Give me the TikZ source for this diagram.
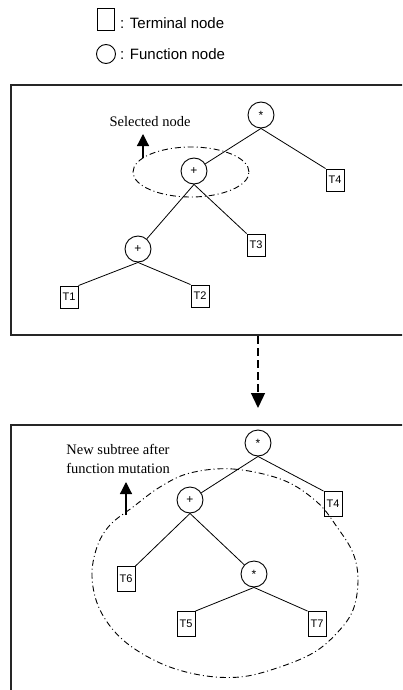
\documentclass[tikz,border=0pt]{standalone}
\usepackage{fontspec}
\setmainfont{Liberation Serif}
\setsansfont{Liberation Sans}
\usetikzlibrary{arrows.meta}

\newcommand{\starop}{\raisebox{-2.5pt}{*}}

\begin{document}
\begin{tikzpicture}[x=1pt,y=-1pt,
  frame/.style={line width=2pt, draw=black!85},
  fnode/.style={circle, draw, line width=0.9pt, minimum size=26pt, inner sep=0pt,
    font=\sffamily\fontsize{12}{12}\selectfont},
  tnode/.style={rectangle, draw, line width=0.9pt, minimum width=18pt, minimum height=22pt,
    inner sep=0pt, font=\sffamily\fontsize{11}{11}\selectfont},
  tnodetall/.style={tnode, minimum height=25pt},
  branch/.style={line width=0.8pt},
  region/.style={line width=0.9pt, dash pattern=on 6pt off 3pt on 1pt off 3pt},
  pointer/.style={line width=1.2pt, -{Triangle[width=12pt,length=12pt]}},
  note/.style={font=\fontsize{14.5}{19}\selectfont, align=center, inner sep=0pt},
  legend/.style={font=\sffamily\fontsize{15}{15}\selectfont, anchor=base west, inner sep=0pt}
]
\useasboundingbox (0,0) rectangle (402,690);
\clip (0,0) rectangle (402,690);

% legend
\node[draw, line width=0.9pt, minimum width=17pt, minimum height=22pt, inner sep=0pt] (legT) at (106,19) {};
\node[legend] (legTtext) at (120,29) {: Terminal node};
\node[draw, circle, line width=0.9pt, minimum size=19pt, inner sep=0pt] (legF) at (106,54) {};
\node[legend] (legFtext) at (120,60) {: Function node};

% frames of the two stages
\draw[frame] (410,85) -- (11,85) -- (11,335) -- (410,335);
\draw[frame] (11,700) -- (11,425) -- (410,425);

% transition arrow
\coordinate (from) at (258,336);
\coordinate (to) at (258,408);
\draw[line width=1.3pt, dash pattern=on 8pt off 4pt, -{Triangle[width=14pt,length=15pt]}] (from) -- (to);

% ---- original tree ----
\node[fnode] (a1) at (261,115) {\starop};
\node[fnode] (b1) at (194,171) {+};
\node[tnode] (t4a) at (335,180) {T4};
\node[fnode] (c1) at (138,249) {+};
\node[tnode] (t3a) at (256,245) {T3};
\node[tnode] (t1a) at (69,297) {T1};
\node[tnode] (t2a) at (200,296) {T2};

\draw[branch] (a1.south) -- (b1);
\draw[branch] (a1.south) -- (t4a.north west);
\draw[branch] (b1.south) -- (c1);
\draw[branch] (b1.south) -- (t3a.north west);
\draw[branch] (c1.south) -- (t1a.north east);
\draw[branch] (c1.south) -- (t2a.north west);

\draw[region] (191,172) ellipse [x radius=58pt, y radius=25pt];
\node[note] (lab1) at (150,122) {Selected node};
\coordinate (p1) at (143,158);
\coordinate (q1) at (143,134);
\draw[pointer] (p1) -- (q1);

% ---- tree after function mutation ----
\node[fnode] (a2) at (258,443) {\starop};
\node[fnode] (b2) at (190,500) {+};
\node[tnodetall] (t4b) at (333,504) {T4};
\node[tnodetall] (t6) at (126,579) {T6};
\node[fnode] (c2) at (254,574) {\starop};
\node[tnodetall] (t5) at (186,624) {T5};
\node[tnodetall] (t7) at (317,624) {T7};

\draw[branch] (a2.south) -- (b2);
\draw[branch] (a2.south) -- (t4b.north west);
\draw[branch] (b2.south) -- (t6.north east);
\draw[branch] (b2.south) -- (c2);
\draw[branch] (c2.south) -- (t5.north east);
\draw[branch] (c2.south) -- (t7.north west);

\draw[region] plot[smooth cycle, tension=0.6] coordinates {
  (190,473) (233,469) (283,480) (317,502) (337,527) (353,553) (358,580)
  (353,610) (337,633) (313,653) (277,668) (240,677) (200,675) (160,663)
  (123,640) (100,610) (92,577) (97,547) (110,525) (133,507) (160,487)};
\node[note] (lab2) at (118,459) {New subtree after\\function mutation};
\coordinate (p2) at (126,515);
\coordinate (q2) at (126,482);
\draw[pointer] (p2) -- (q2);
\end{tikzpicture}
\end{document}
